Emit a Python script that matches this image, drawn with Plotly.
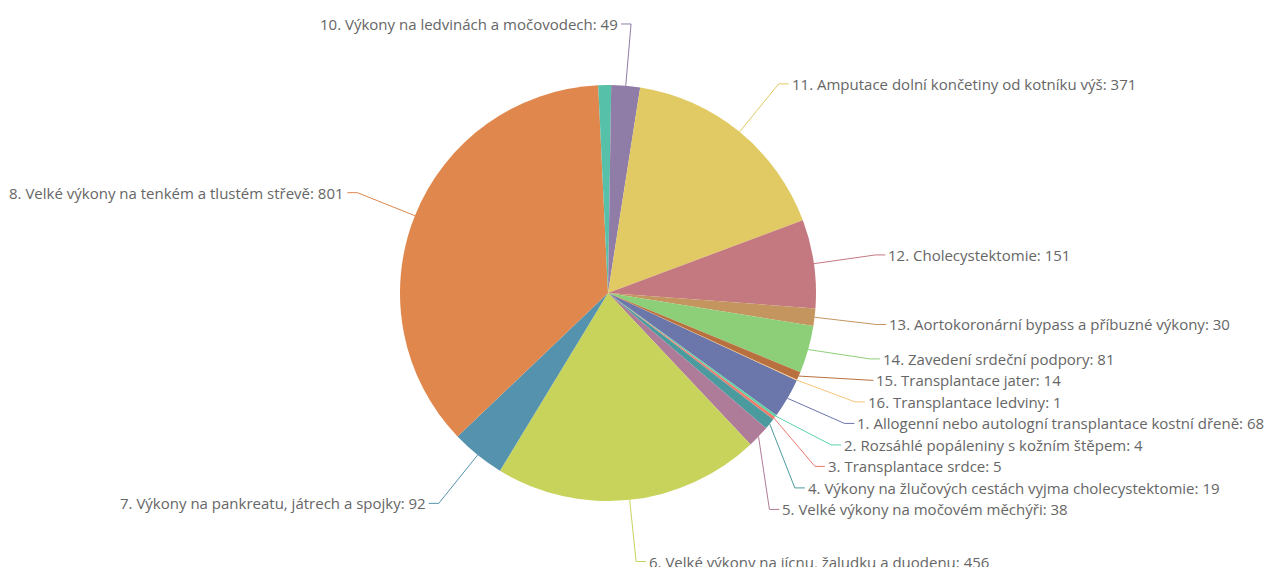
import math
import plotly.graph_objects as go

# ---------------- data ----------------
categories = [
    "1. Allogenní nebo autologní transplantace kostní dřeně",
    "2. Rozsáhlé popáleniny s kožním štěpem",
    "3. Transplantace srdce",
    "4. Výkony na žlučových cestách vyjma cholecystektomie",
    "5. Velké výkony na močovém měchýři",
    "6. Velké výkony na jícnu, žaludku a duodenu",
    "7. Výkony na pankreatu, játrech a spojky",
    "8. Velké výkony na tenkém a tlustém střevě",
    "9.",
    "10. Výkony na ledvinách a močovodech",
    "11. Amputace dolní končetiny od kotníku výš",
    "12. Cholecystektomie",
    "13. Aortokoronární bypass a příbuzné výkony",
    "14. Zavedení srdeční podpory",
    "15. Transplantace jater",
    "16. Transplantace ledviny",
]
values = [68, 4, 5, 19, 38, 456, 92, 801, 22, 49, 371, 151, 30, 81, 14, 1]
label_shown = [True, True, True, True, True, True, True, True, False,
               True, True, True, True, True, True, True]

# ---------------- styles ----------------
colors = [
    "#6b76ab", "#5dd3a5", "#ef7b6e", "#4b9b9e", "#ae7b98", "#c8d35c",
    "#5592ad", "#df874c", "#57c0a8", "#8f7ca7", "#e1ca63", "#c47880",
    "#c4955f", "#8dcf79", "#b9703f", "#f7c47a",
]
W, H = 1264, 567
CX, CY, R = 608, 293, 208          # pie centre / radius in px
R_LABEL = 270                      # radius of label-line elbows
LEN2 = 10                          # horizontal part of label line
TEXT_GAP = 1
LINE_H = 21.5
CLUSTER_BIAS = 2.5                 # shift of packed label groups (px, downward)
START_ANGLE = 114.84               # where slice 1 starts (deg clockwise from 12 o'clock)
SIDE_SPLIT = 6                     # degrees
FONT = "Open Sans"
FONT_SIZE = 15
TEXT_COLOR = "#666666"

total = float(sum(values))
mids = []
acc = 0.0
for v in values:
    mids.append((START_ANGLE + (acc + v / 2.0) / total * 360.0) % 360.0)
    acc += v

# ---------------- label layout ----------------
items = []
for i, m in enumerate(mids):
    if not label_shown[i]:
        continue
    side = 1 if SIDE_SPLIT < m < 180 + SIDE_SPLIT else -1
    rad = math.radians(m)
    items.append(dict(i=i, side=side, rad=rad,
                      y0=CY - R_LABEL * math.cos(rad),
                      x0=CX + R_LABEL * math.sin(rad)))


def spread(group):
    group = sorted(group, key=lambda d: d["y0"])
    clusters = [[d] for d in group]

    def top(cl):
        mean = sum(d["y0"] for d in cl) / len(cl)
        bias = CLUSTER_BIAS if len(cl) > 1 else 0.0
        return mean + bias - (len(cl) - 1) * LINE_H / 2.0

    merged = True
    while merged:
        merged = False
        for k in range(len(clusters) - 1):
            a, b = clusters[k], clusters[k + 1]
            bottom_a = top(a) + (len(a) - 1) * LINE_H
            if top(b) - bottom_a < LINE_H:
                clusters[k] = a + b
                del clusters[k + 1]
                merged = True
                break
    for cl in clusters:
        t = top(cl)
        for j, d in enumerate(cl):
            d["y"] = t + j * LINE_H


for s in (1, -1):
    spread([d for d in items if d["side"] == s])

for d in items:
    dy = d["y"] - d["y0"]
    if abs(dy) < 0.01:
        d["x"] = d["x0"]
    else:
        ddy = d["y"] - CY
        d["x"] = CX + d["side"] * math.sqrt(max(R_LABEL ** 2 - ddy ** 2, 0))

# ---------------- figure ----------------
fig = go.Figure()

fig.add_trace(go.Pie(
    labels=categories,
    values=values,
    sort=False,
    direction="clockwise",
    rotation=START_ANGLE if START_ANGLE <= 180 else START_ANGLE - 360,
    marker=dict(colors=colors, line=dict(width=0)),
    textinfo="none",
    hoverinfo="label+value+percent",
    showlegend=False,
    domain=dict(x=[(CX - R) / W, (CX + R) / W],
                y=[1 - (CY + R) / H, 1 - (CY - R) / H]),
))

annotations = []
for d in items:
    i = d["i"]
    sx = CX + R * math.sin(d["rad"])
    sy = CY - R * math.cos(d["rad"])
    ex, ey = d["x"], d["y"]
    hx = ex + d["side"] * LEN2
    fig.add_trace(go.Scatter(
        x=[sx, ex, hx], y=[sy, ey, ey], mode="lines",
        line=dict(color=colors[i], width=1),
        hoverinfo="skip", showlegend=False,
        xaxis="x", yaxis="y",
    ))
    annotations.append(dict(
        x=hx + d["side"] * TEXT_GAP, y=ey, xref="x", yref="y",
        text=f"{categories[i]}: {values[i]}",
        showarrow=False,
        xanchor="left" if d["side"] > 0 else "right",
        yanchor="middle",
        font=dict(family=FONT, size=FONT_SIZE, color=TEXT_COLOR),
    ))

fig.update_layout(
    width=W, height=H,
    margin=dict(l=0, r=0, t=0, b=0),
    paper_bgcolor="white", plot_bgcolor="rgba(0,0,0,0)",
    xaxis=dict(range=[0, W], visible=False, fixedrange=True, domain=[0, 1]),
    yaxis=dict(range=[H, 0], visible=False, fixedrange=True, domain=[0, 1]),
    annotations=annotations,
    showlegend=False,
)

fig.write_html(
    "out.html",
    config={"displayModeBar": False},
    post_script="document.body.style.margin='0';document.body.style.overflow='hidden';",
)
